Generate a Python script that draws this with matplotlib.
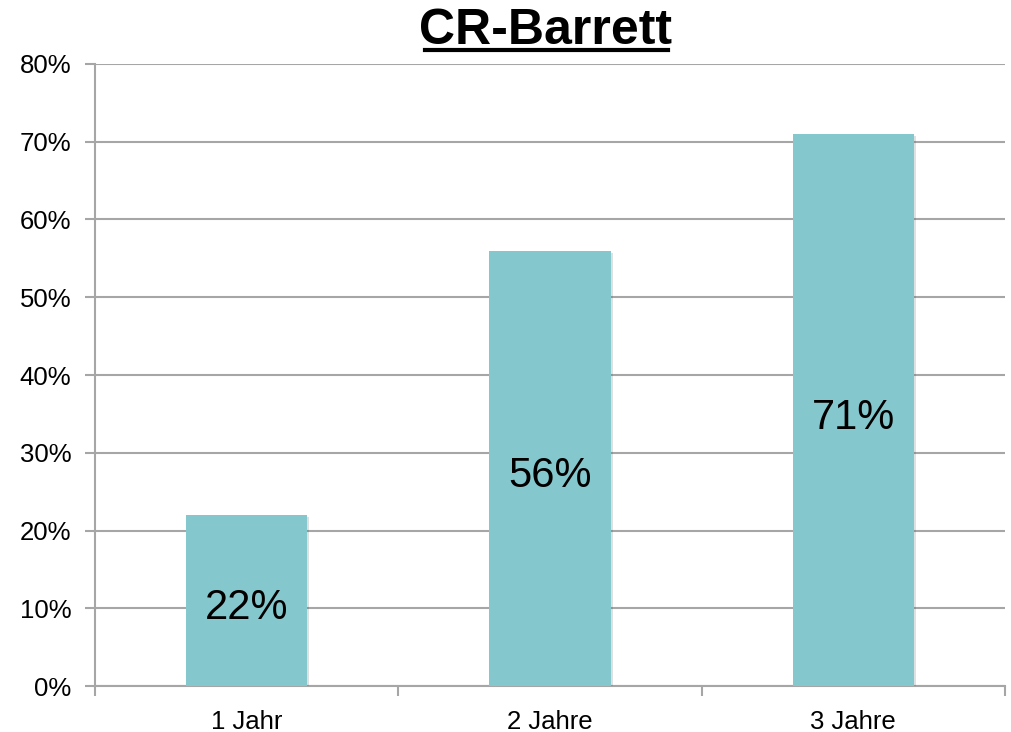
import matplotlib.pyplot as plt
from matplotlib.lines import Line2D
import matplotlib.patheffects as pe

categories = ['1 Jahr', '2 Jahre', '3 Jahre']
values = [22, 56, 71]
yticks = [0, 10, 20, 30, 40, 50, 60, 70, 80]

plt.rcParams['font.family'] = ['Liberation Sans', 'DejaVu Sans']

fig = plt.figure(figsize=(10.11, 7.32), dpi=100)
ax = fig.add_axes([0.094, 0.0628, 0.9, 0.8498])

x = list(range(len(categories)))
grid_col = '#a6a6a6'

bars = ax.bar(x, values, width=0.4, color='#84c8ce', zorder=3)
for b in bars:
    b.set_path_effects([pe.SimplePatchShadow(offset=(1.5, -1.5), alpha=0.15), pe.Normal()])

for xi, v in zip(x, values):
    ax.text(xi, v / 2 - 0.4, f'{v}%', ha='center', va='center_baseline', fontsize=30, zorder=4)

ax.set_xlim(-0.5, 2.5)
ax.set_ylim(0, 80)
ax.set_yticks(yticks)
ax.set_yticklabels([f'{t}%' for t in yticks], fontsize=18.5)
ax.yaxis.grid(True, color=grid_col, linewidth=1.5, zorder=0)

# category boundaries get the tick marks, labels sit in the middle
ax.set_xticks([-0.5, 0.5, 1.5, 2.5])
ax.set_xticklabels([])
ax.set_xticks(x, minor=True)
ax.set_xticklabels(categories, minor=True, fontsize=18.5)
ax.tick_params(axis='x', which='minor', length=0, pad=17)
ax.tick_params(axis='x', which='major', length=7, width=1.5, color=grid_col)
ax.tick_params(axis='y', length=7, width=1.5, color=grid_col, pad=10)

for side in ['top', 'right']:
    ax.spines[side].set_visible(False)
for side in ['left', 'bottom']:
    ax.spines[side].set_color(grid_col)
    ax.spines[side].set_linewidth(1.5)

# underlined bold title
fig.text(0.54, 0.94, 'CR-Barrett', ha='center', va='baseline', fontsize=36, fontweight='bold')
fig.add_artist(Line2D([0.42, 0.661], [0.932, 0.932], color='black', linewidth=3, transform=fig.transFigure))

fig.savefig('out.png', dpi=100)
